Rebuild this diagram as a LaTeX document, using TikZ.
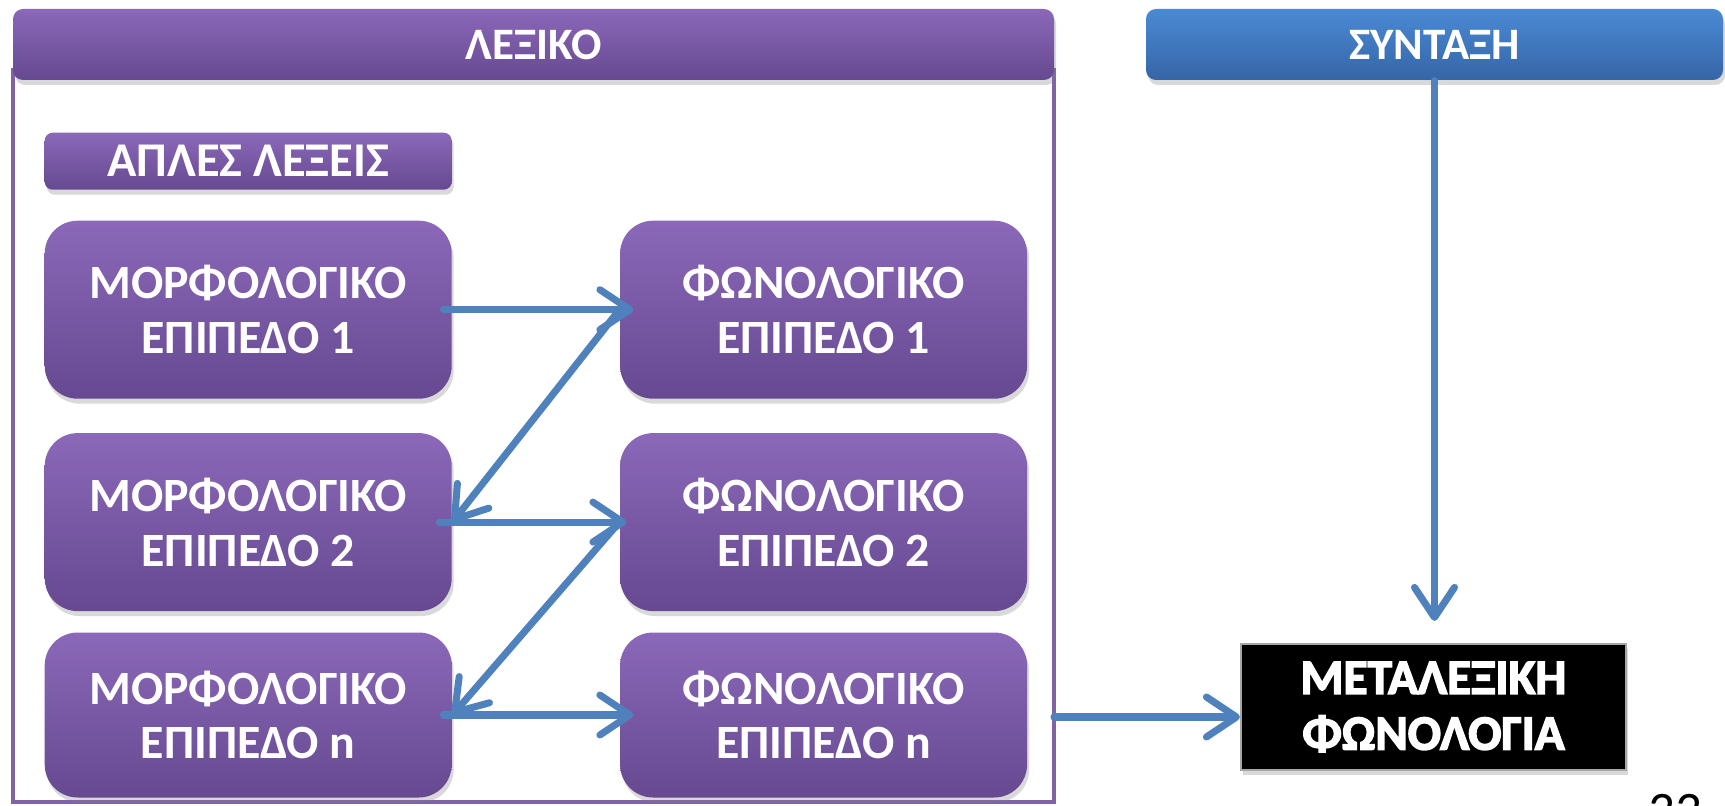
\documentclass[tikz,border=0pt]{standalone}
\usepackage{fontspec}
\setmainfont{Carlito}
\newfontfamily\metafont{Carlito}[BoldFeatures={FakeBold=3}]
\usepackage{xcolor}
\usepackage{tikz}
\usetikzlibrary{arrows.meta,positioning,shapes,calc,shadows}

\definecolor{lexTop}{HTML}{8B68B9}
\definecolor{lexBot}{HTML}{664990}
\definecolor{synTop}{HTML}{4B8AD5}
\definecolor{synBot}{HTML}{3565A6}
\definecolor{lexLine}{HTML}{7F63A6}
\definecolor{arrowBlue}{HTML}{4F81BD}

\begin{document}
\begin{tikzpicture}[
node distance=0.33cm and 1.67cm,
level/.style={rectangle, rounded corners=0.33cm, top color=lexTop, bottom color=lexBot, text=white, minimum width=4.07cm, minimum height=1.78cm, font=\bfseries\fontsize{13.6}{15.6}\selectfont, align=center, drop shadow={opacity=0.3, shadow xshift=0.02cm, shadow yshift=-0.05cm}},
header/.style={rectangle, rounded corners=0.1cm, text=white, minimum height=0.71cm, font=\bfseries\fontsize{12.8}{15}\selectfont, drop shadow={opacity=0.3, shadow xshift=0.02cm, shadow yshift=-0.05cm}},
arrow/.style={-{Straight Barb[length=0.3cm, width=0.4cm, round]}, line width=2pt, arrowBlue, line cap=round}
]
\useasboundingbox (0,0) rectangle (17.25,-8.06);

% Lexicon
\draw[lexLine, line width=1pt] (0.13,-0.7) rectangle (10.54,-8.02);
\node[header, top color=lexTop, bottom color=lexBot, minimum width=10.41cm] (lex) at (5.335,-0.445) {ΛΕΞΙΚΟ};
\node[header, top color=lexTop, bottom color=lexBot, anchor=north west, minimum width=4.07cm, minimum height=0.57cm, rounded corners=0.08cm, font=\bfseries\fontsize{13.8}{15}\selectfont] (simple) at (0.44,-1.32) {ΑΠΛΕΣ ΛΕΞΕΙΣ};

% Left column
\node[level, anchor=north west] (morph1) at (0.44,-2.20) {ΜΟΡΦΟΛΟΓΙΚΟ\\ΕΠΙΠΕΔΟ 1};
\node[level, below=of morph1] (morph2) {ΜΟΡΦΟΛΟΓΙΚΟ\\ΕΠΙΠΕΔΟ 2};
\node[level, below=0.20cm of morph2, minimum height=1.65cm] (morph3) {ΜΟΡΦΟΛΟΓΙΚΟ\\ΕΠΙΠΕΔΟ n};

% Right column
\node[level, right=of morph1] (phon1) {ΦΩΝΟΛΟΓΙΚΟ\\ΕΠΙΠΕΔΟ 1};
\node[level, right=of morph2] (phon2) {ΦΩΝΟΛΟΓΙΚΟ\\ΕΠΙΠΕΔΟ 2};
\node[level, right=of morph3, minimum height=1.65cm] (phon3) {ΦΩΝΟΛΟΓΙΚΟ\\ΕΠΙΠΕΔΟ n};

% Syntax and postlexical
\node[header, top color=synTop, bottom color=synBot, minimum width=5.77cm] (synt) at (14.345,-0.445) {ΣΥΝΤΑΞΗ};
\node[rectangle, fill=black, draw=gray!70, line width=0.6pt, text=white, minimum width=3.85cm, minimum height=1.26cm, align=center, font=\metafont\bfseries\fontsize{14}{15.9}\selectfont, drop shadow={opacity=0.3, shadow xshift=0.02cm, shadow yshift=-0.05cm}] (post) at (14.335,-7.07) {ΜΕΤΑΛΕΞΙΚΗ\\ΦΩΝΟΛΟΓΙΑ};
\coordinate (lexout) at (10.54,-7.17);

% Arrows
\draw[arrow, shorten <=-0.09cm, shorten >=-0.14cm] (morph1) -- (phon1);
\draw[arrow] (phon1.west) -- (morph2.east);
\draw[arrow, shorten <=-0.13cm, shorten >=-0.07cm] (morph2.east) -- (phon2.west);
\draw[arrow] (phon2.west) -- (morph3.east);
\draw[arrow, shorten <=-0.09cm, shorten >=-0.14cm] (morph3) -- (phon3);
\draw[arrow] (synt.south) -- ([yshift=0.22cm]synt.south |- post.north);
\draw[arrow] (lexout) -- (lexout -| post.west);

% Page number
\node[anchor=north, inner sep=0, font=\fontsize{15}{18}\selectfont] (page) at (16.75,-7.94) {33};

\end{tikzpicture}
\end{document}
